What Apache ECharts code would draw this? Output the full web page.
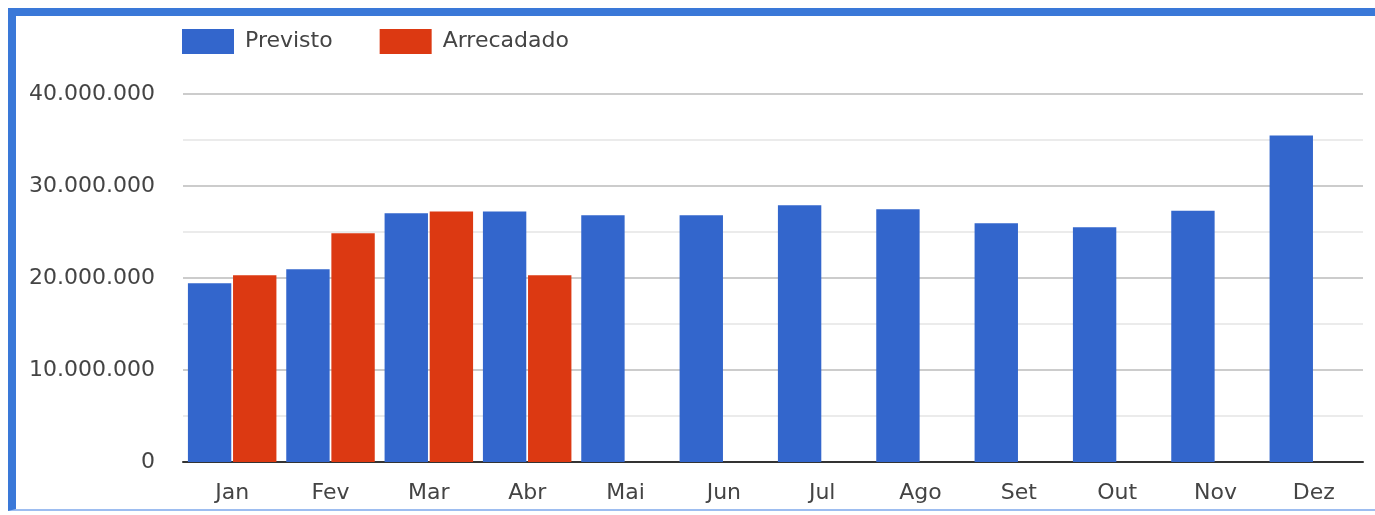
<!DOCTYPE html>
<html>
<head>
<meta charset="utf-8">
<script src="https://cdn.jsdelivr.net/npm/echarts@6/dist/echarts.min.js"></script>
<style>
    html, body { margin: 0; padding: 0; background: #fff; }
    #frame {
        position: absolute; left: 8px; top: 8px; width: 1367px; height: 503px;
        border-top: 8px solid #3a78d8; border-left: 8px solid #3a78d8;
        border-bottom: 2px solid #9dbdf0; box-sizing: border-box;
    }
    #chart { position: absolute; left: 0; top: 0; width: 1375px; height: 515px; }
</style>
</head>
<body>
<div id="frame"></div>
<div id="chart"></div>
<script>
var meses = ['Jan', 'Fev', 'Mar', 'Abr', 'Mai', 'Jun', 'Jul', 'Ago', 'Set', 'Out', 'Nov', 'Dez']
var previsto = [19440000, 20950000, 27030000, 27240000, 26810000, 26810000, 27900000, 27460000, 25940000, 25510000, 27310000, 35500000]
var arrecadado = [20300000, 24860000, 27240000, 20300000, null, null, null, null, null, null, null, null]

function fmt(v) {
    // separador de milhar com ponto
    return String(v).replace(/\B(?=(\d{3})+(?!\d))/g, '.')
}

var chart = echarts.init(document.getElementById('chart'))
chart.setOption({
    color: ['#3366cc', '#dc3912'],
    textStyle: { fontFamily: 'DejaVu Sans' },
    legend: {
        left: 177,
        top: 24,
        itemWidth: 52,
        itemHeight: 25,
        itemGap: 47,
        icon: 'rect',
        data: ['Previsto', 'Arrecadado'],
        textStyle: {
            color: '#444',
            fontSize: 22,
            fontFamily: 'DejaVu Sans',
            padding: [3, 0, 0, 6]
        }
    },
    grid: { left: 183, right: 12, top: 94, bottom: 53 },
    xAxis: {
        type: 'category',
        data: meses,
        axisTick: { show: false },
        axisLine: { lineStyle: { color: '#333', width: 2 } },
        axisLabel: { color: '#444', fontSize: 22, margin: 20 }
    },
    yAxis: {
        type: 'value',
        min: 0,
        max: 40000000,
        interval: 10000000,
        axisLabel: {
            color: '#444',
            fontSize: 22,
            margin: 28,
            formatter: fmt
        },
        splitLine: { lineStyle: { color: '#cccccc', width: 2 } },
        minorTick: { show: false, splitNumber: 2 },
        minorSplitLine: { show: true, lineStyle: { color: '#ebebeb', width: 2 } }
    },
    series: [
        {
            name: 'Previsto',
            type: 'bar',
            data: previsto,
            barCategoryGap: '10%',
            barGap: '4%'
        },
        {
            name: 'Arrecadado',
            type: 'bar',
            data: arrecadado
        }
    ]
})
</script>
</body>
</html>
